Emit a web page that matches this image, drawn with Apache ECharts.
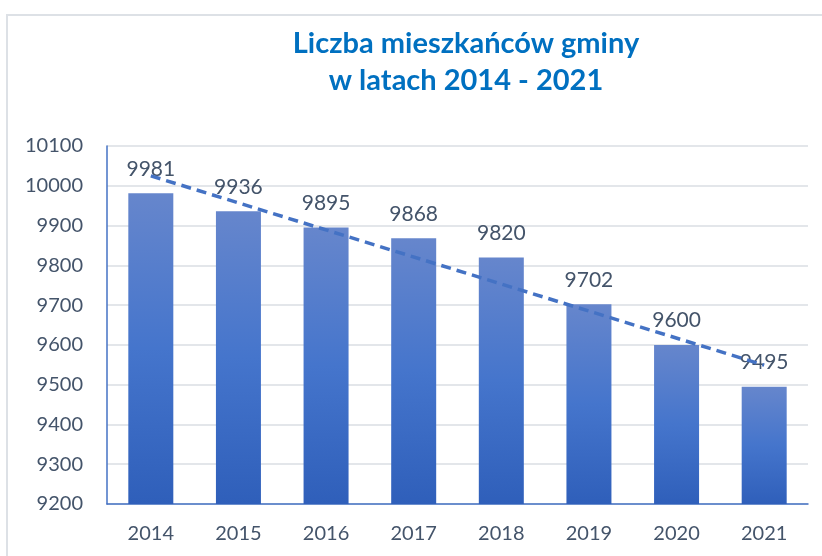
<!DOCTYPE html>
<html><head><meta charset="utf-8">
<script src="https://cdn.jsdelivr.net/npm/echarts@6/dist/echarts.min.js"></script>
<style>html,body{margin:0;padding:0;background:#fff}#c{width:822px;height:556px}</style>
</head><body><div id="c"></div>
<script>
var years = ['2014','2015','2016','2017','2018','2019','2020','2021'];
var residents = [9981, 9936, 9895, 9868, 9820, 9702, 9600, 9495];
var trendline = [10025, null, null, null, null, null, null, 9549];
var yTicks = {min: 9200, max: 10100, interval: 100};

var chart = echarts.init(document.getElementById('c'));
chart.setOption({
  animation: false,
  backgroundColor: '#fff',
  title: {
    text: 'Liczba mieszkańców gminy\nw latach 2014 - 2021',
    left: 461, top: 20, textAlign: 'center',
    textStyle: {fontFamily: 'Lato', fontWeight: 'bold', fontSize: 29, color: '#0070C0', lineHeight: 37}
  },
  graphic: [{
    type: 'polyline', silent: true,
    shape: {points: [[7, 560], [7, 15], [830, 15]]},
    style: {stroke: '#DDE1E6', lineWidth: 2, fill: null}
  }],
  grid: {left: 107, right: 14, top: 146, bottom: 52},
  xAxis: {
    type: 'category', data: years,
    axisLine: {show: true, lineStyle: {color: '#4472C4', width: 1.5}},
    axisTick: {show: false},
    axisLabel: {fontFamily: 'Lato', fontSize: 20, color: '#44546A', margin: 20}
  },
  yAxis: {
    type: 'value', min: yTicks.min, max: yTicks.max, interval: yTicks.interval,
    axisLine: {show: true, lineStyle: {color: '#4472C4', width: 1.5}},
    axisTick: {show: false},
    axisLabel: {fontFamily: 'Lato', fontSize: 20, color: '#44546A', margin: 24, formatter: function (v) { return String(v); }},
    splitLine: {lineStyle: {color: '#E3E6EA', width: 2}}
  },
  series: [{
    type: 'bar', data: residents, barWidth: 45,
    itemStyle: {color: new echarts.graphic.LinearGradient(0, 0, 0, 1, [
      {offset: 0, color: '#6686CC'}, {offset: 0.5, color: '#4575CC'}, {offset: 1, color: '#2F5FBA'}])},
    label: {show: true, position: 'top', distance: 14, fontFamily: 'Lato', fontSize: 21, color: '#44546A'}
  }, {
    type: 'line', data: trendline, connectNulls: true, symbol: 'none', z: 5,
    lineStyle: {color: '#4472C4', width: 3.5, type: [10, 6]}
  }]
});
</script></body></html>
